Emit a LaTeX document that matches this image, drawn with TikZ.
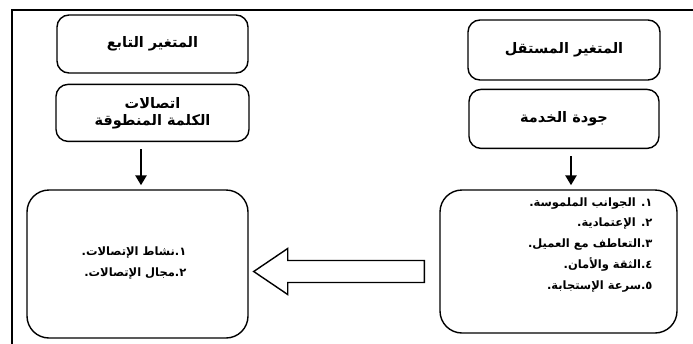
\documentclass[tikz,border=0pt]{standalone}
\usepackage{fontspec}
\setmainfont{DejaVu Sans}
\newfontfamily\arabicfont[Script=Arabic]{DejaVu Sans}
\TeXXeTstate=1
\usetikzlibrary{arrows.meta, positioning, calc}

\begin{document}
\begin{tikzpicture}[x=1pt, y=-1pt,
  box/.style={rectangle, draw=black, line width=1.4pt, rounded corners=12pt,
              minimum width=191pt, minimum height=58pt, align=center,
              font=\arabicfont\bfseries\fontsize{14.5}{17}\selectfont},
  bigbox/.style={rectangle, draw=black, line width=1.4pt, rounded corners=22pt},
  items/.style={align=right, inner sep=0pt,
                font=\arabicfont\bfseries\fontsize{11.5}{20.75}\selectfont},
  arr/.style={-{Triangle[length=10pt,width=11pt]}, line width=2.8pt,
              shorten <=7pt, shorten >=4pt},
  hollow/.style={draw=black, line width=1.4pt, fill=white, line join=miter},
  frame/.style={draw=black, line width=1.4pt}
]
\useasboundingbox (0,0) rectangle (693,343);
\clip (0,0) rectangle (693,343);
\draw[frame] (12,360) |- (710,10);

\node[box] (depTitle) at (152.5,44) {\beginR المتغير التابع\endR};
\node[box, below=10pt of depTitle, minimum width=193pt, minimum height=57pt] (depName)
  {\beginR اتصالات\endR\\\beginR الكلمة المنطوقة\endR};
\node[box, minimum width=192pt, minimum height=60pt] (indepTitle) at (564,50) {\beginR المتغير المستقل\endR};
\node[box, below=8pt of indepTitle, minimum width=190pt, minimum height=59pt] (indepName)
  {\beginR جودة الخدمة\endR};

\node[bigbox, minimum width=221pt, minimum height=148pt] (outBox) at (137.5,264) {};
\node[bigbox, minimum width=237pt, minimum height=143pt] (dimsBox) at (558.5,261.5) {};

\node[items] (outItems) at (134,263)
  {\beginR ١.نشاط الإتصالات.\endR\\\beginR ٢.مجال الإتصالات.\endR};
\node[items, anchor=north east] (dimsItems) at ($(dimsBox.north east)+(-25,8)$)
  {\beginR ١. الجوانب الملموسة.\endR\\
   \beginR ٢. الإعتمادية.\endR\\
   \beginR ٣.التعاطف مع العميل.\endR\\
   \beginR ٤.الثقة والأمان.\endR\\
   \beginR ٥.سرعة الإستجابة.\endR};

\draw[arr] (depName.south -| 141,0) -- (outBox.north -| 141,0);
\draw[arr] (indepName.south -| 571,0) -- (dimsBox.north -| 571,0);

\coordinate (tip) at ($(outBox.east |- 0,271.5)+(5,0)$);
\draw[hollow] (tip) -- ++(34,-23) -- ++(0,12) -| ($(dimsBox.west |- 0,271.5)+(-15,-11)$)
  -- ++(0,22) -| ($(tip)+(34,11)$) -- ++(0,12) -- cycle;
\end{tikzpicture}
\end{document}
